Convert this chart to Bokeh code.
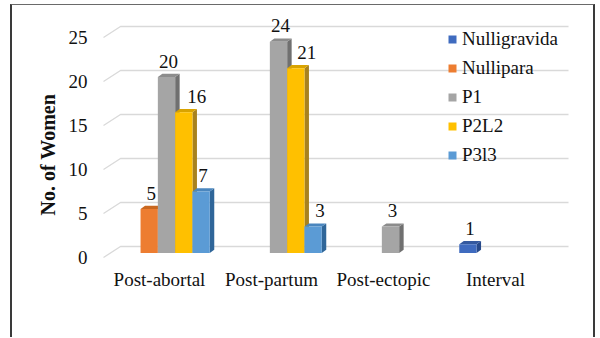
from bokeh.plotting import figure
from bokeh.models import (Range1d, FixedTicker, Legend, LegendItem, Title,
                          ColumnDataSource)
from bokeh.core.properties import value
from bokeh.embed import file_html
from bokeh.resources import INLINE

# ---------------- data ----------------
categories = ["Post-abortal", "Post-partum", "Post-ectopic", "Interval"]
series = ["Nulligravida", "Nullipara", "P1", "P2L2", "P3l3"]
nulligravida = [0, 0, 0, 1]
nullipara = [5, 0, 0, 0]
p1 = [20, 24, 3, 0]
p2l2 = [16, 21, 0, 0]
p3l3 = [7, 3, 0, 0]
y_ticks = [0, 5, 10, 15, 20, 25]
y_title = "No. of Women"

values = [nulligravida, nullipara, p1, p2l2, p3l3]

# ---------------- style ----------------
front_colors = ["#3F6BBF", "#ED7D31", "#A5A5A5", "#FFC000", "#5B9BD5"]
top_colors = ["#34599F", "#C9671F", "#8C8C8C", "#D9A300", "#4A86BE"]
side_colors = ["#284A8A", "#A8561A", "#707070", "#A8821E", "#2F6699"]
FONT = "Liberation Serif"
TXT = "#111111"

# host element offset on the page (the outer border sits around it)
OFF_X, OFF_Y = 12, 5
W, H = 585, 333

PX_X = 112.0   # pixels per category (front plane)
PX_Y = 8.8     # pixels per unit (front plane)
# page coordinates of the plotting frame and of the front plane
FRAME_L, FRAME_R, FRAME_T, FRAME_B = 92, 580, 8, 262
FRONT_L_PX, FRONT_R_PX, FRONT_0_PX = 103, 551, 257

WALL_DX = 17 / PX_X       # back wall offset
WALL_DY = 11 / PX_Y
BAR_DX = 7 / PX_X         # bar plane offset
BAR_DY = 4.5 / PX_Y
SIDE_DX = 4.5 / PX_X      # bar depth
SIDE_DY = 3.2 / PX_Y
BAR_W = 17.3 / PX_X
LABEL_NUDGE_PX = {("Post-abortal", "P2L2"): 11, ("Post-partum", "P2L2"): 9,
                  ("Post-partum", "P3l3"): 5}

x_start = -0.5 - (FRONT_L_PX - FRAME_L) / PX_X
x_end = len(categories) - 0.5 + (FRAME_R - FRONT_R_PX) / PX_X
y_start = -(FRAME_B - FRONT_0_PX) / PX_Y
y_end = (FRONT_0_PX - FRAME_T) / PX_Y

p = figure(width=W, height=H, x_range=Range1d(x_start, x_end),
           y_range=Range1d(y_start, y_end), output_backend="svg",
           toolbar_location=None,
           min_border_left=FRAME_L - OFF_X,
           min_border_right=OFF_X + W - FRAME_R,
           min_border_top=FRAME_T - OFF_Y,
           min_border_bottom=OFF_Y + H - FRAME_B,
           styles={"margin-left": "10px", "margin-top": "4px",
                   "border-left": "2px solid #3a3a3a",
                   "border-top": "1px solid #6a6a6a",
                   "border-right": "2px solid #3a3a3a"})
p.outline_line_color = None
p.background_fill_color = "white"
p.border_fill_color = "white"
p.xgrid.visible = False
p.ygrid.visible = False

# ---------------- gridlines (side wall + back wall) ----------------
gx, gy = [], []
for t in y_ticks:
    gx.append([-0.5, -0.5 + WALL_DX, len(categories) - 0.5 + WALL_DX])
    gy.append([t, t + WALL_DY, t + WALL_DY])
p.multi_line(gx, gy, line_color="#D9D9D9", line_width=1.3)

# ---------------- bars ----------------
front_renderers = []
lab_x, lab_y, lab_t, lab_dx = [], [], [], []
for j, (name, vals) in enumerate(zip(series, values)):
    idx = [i for i, v in enumerate(vals) if v > 0]
    lefts = [i + BAR_DX - 2.5 * BAR_W + j * BAR_W for i in idx]
    rights = [l + BAR_W for l in lefts]
    bottoms = [BAR_DY for _ in idx]
    tops = [vals[i] + BAR_DY for i in idx]
    side_xs = [[r, r + SIDE_DX, r + SIDE_DX, r] for r in rights]
    side_ys = [[b, b + SIDE_DY, t + SIDE_DY, t] for b, t in zip(bottoms, tops)]
    top_xs = [[l, l + SIDE_DX, r + SIDE_DX, r] for l, r in zip(lefts, rights)]
    top_ys = [[t, t + SIDE_DY, t + SIDE_DY, t] for t in tops]
    p.patches(side_xs, side_ys, fill_color=side_colors[j], line_color=None)
    p.patches(top_xs, top_ys, fill_color=top_colors[j], line_color=None)
    r = p.quad(left=lefts, right=rights, bottom=bottoms, top=tops,
               fill_color=front_colors[j], line_color=None)
    front_renderers.append(r)
    for k, i in enumerate(idx):
        lab_x.append((lefts[k] + rights[k]) / 2)
        lab_y.append(tops[k])
        lab_t.append(str(vals[i]))
        lab_dx.append(2 + LABEL_NUDGE_PX.get((categories[i], name), 0))

src = ColumnDataSource(dict(x=lab_x, y=lab_y, t=lab_t, dx=lab_dx))
p.text(x="x", y="y", text="t", x_offset="dx", y_offset=-16, source=src,
       text_align="center", text_baseline="middle", text_font=value(FONT),
       text_font_size="19px", text_color=TXT)

# ---------------- axes ----------------
p.xaxis.ticker = FixedTicker(ticks=list(range(len(categories))))
p.xaxis.major_label_overrides = {i: c for i, c in enumerate(categories)}
p.xaxis.axis_line_color = None
p.xaxis.major_tick_line_color = None
p.xaxis.minor_tick_line_color = None
p.xaxis.major_tick_out = 0
p.xaxis.major_tick_in = 0
p.xaxis.major_label_standoff = 6
p.xaxis.major_label_text_font = FONT
p.xaxis.major_label_text_font_size = "19px"
p.xaxis.major_label_text_color = TXT

p.yaxis.ticker = FixedTicker(ticks=y_ticks)
p.yaxis.axis_line_color = None
p.yaxis.major_tick_line_color = None
p.yaxis.minor_tick_line_color = None
p.yaxis.major_tick_out = 0
p.yaxis.major_tick_in = 0
p.yaxis.major_label_standoff = 5
p.yaxis.major_label_text_font = FONT
p.yaxis.major_label_text_font_size = "19px"
p.yaxis.major_label_text_color = TXT

title = Title(text=y_title, align="left", offset=47, standoff=14,
              text_font=FONT, text_font_style="bold", text_font_size="20px",
              text_color=TXT)
p.add_layout(title, "left")

# ---------------- legend ----------------
legend = Legend(items=[LegendItem(label=s, renderers=[front_renderers[j]])
                       for j, s in enumerate(series)],
                location=(447 - FRAME_L, FRAME_B - 166), orientation="vertical",
                glyph_width=10, glyph_height=10, label_height=21, spacing=7,
                padding=0, margin=0, label_standoff=5,
                background_fill_alpha=0, border_line_color=None,
                label_text_font=FONT, label_text_font_size="19px",
                label_text_color=TXT)
p.add_layout(legend)

open("out.html", "w").write(file_html(p, INLINE))
